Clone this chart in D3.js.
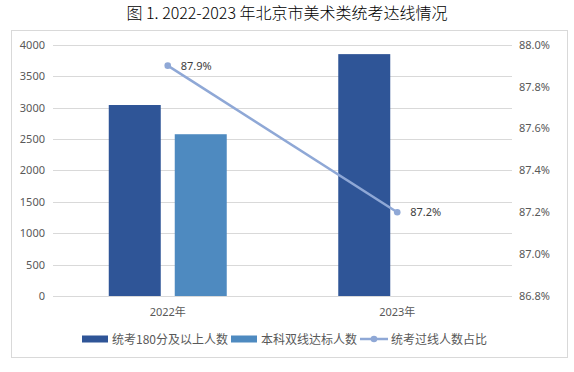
<!DOCTYPE html>
<html>
<head>
<meta charset="utf-8">
<script src="https://cdn.jsdelivr.net/npm/d3@7"></script>
<style>
  body { margin: 0; background: #fff; }
  text { font-family: "Noto Sans", "Noto Sans CJK SC", sans-serif; }
</style>
</head>
<body>
<div id="chart"></div>
<script>
// Data
const years = ["2022年", "2023年"];
const seriesNames = ["统考180分及以上人数", "本科双线达标人数"];
const passCount = [3040, 3850];
const bothLines = [2575, null];
const passRate = [87.9, 87.2];
const lineName = "统考过线人数占比";
const leftTicks = [0, 500, 1000, 1500, 2000, 2500, 3000, 3500, 4000];
const rightTicks = [86.8, 87.0, 87.2, 87.4, 87.6, 87.8, 88.0];

const colors = ["#2F5597", "#4E8AC0"];
const lineColor = "#8FA8D6";
const textColor = "#595959";
const gridColor = "#D9D9D9";

const W = 574, H = 372;
const plot = { left: 53, right: 512, top: 44.7, bottom: 296 };

const svg = d3.select("#chart").append("svg")
  .attr("width", W).attr("height", H);

// Chart border
svg.append("rect")
  .attr("x", 11.5).attr("y", 30.5)
  .attr("width", 556).attr("height", 327)
  .attr("fill", "none").attr("stroke", gridColor);

// Title
svg.append("text")
  .attr("x", 287).attr("y", 19)
  .attr("text-anchor", "middle")
  .style("font-family", "'Noto Sans CJK SC', sans-serif")
  .style("font-size", "16px")
  .style("font-weight", "300")
  .attr("fill", "#000")
  .text("图 1. 2022-2023 年北京市美术类统考达线情况");

// Scales
const x = d3.scaleBand().domain(years).range([plot.left, plot.right]);
const xs = d3.scaleBand().domain(seriesNames).range([0, x.bandwidth()])
  .paddingInner(0.212).paddingOuter(0.845);
const yL = d3.scaleLinear().domain([0, 4000]).range([plot.bottom, plot.top]);
const yR = d3.scaleLinear().domain([86.8, 88.0]).range([plot.bottom, plot.top]);

// Gridlines
svg.append("g").selectAll("line").data(leftTicks).enter().append("line")
  .attr("x1", plot.left).attr("x2", plot.right)
  .attr("y1", (d) => Math.round(yL(d)) + 0.5)
  .attr("y2", (d) => Math.round(yL(d)) + 0.5)
  .attr("stroke", gridColor);

// Left axis labels
svg.append("g").selectAll("text").data(leftTicks).enter().append("text")
  .attr("x", 45).attr("y", (d) => yL(d) + 4)
  .attr("text-anchor", "end")
  .style("font-size", "11px").attr("fill", textColor)
  .text((d) => d);

// Right axis labels
svg.append("g").selectAll("text").data(rightTicks).enter().append("text")
  .attr("x", 519).attr("y", (d) => yR(d) + 4)
  .style("font-size", "11px").attr("fill", textColor)
  .text((d) => d3.format(".1f")(d) + "%");

// Bars
const rows = years.map((yr, i) => ({ year: yr, vals: [passCount[i], bothLines[i]] }));
const groups = svg.append("g").selectAll("g").data(rows).enter().append("g")
  .attr("transform", (d) => "translate(" + x(d.year) + ",0)");

groups.selectAll("rect")
  .data((d) => d.vals.map((v, j) => ({ name: seriesNames[j], v: v, j: j })).filter((e) => e.v != null))
  .enter().append("rect")
  .attr("x", (d) => xs(d.name))
  .attr("y", (d) => yL(d.v))
  .attr("width", xs.bandwidth())
  .attr("height", (d) => plot.bottom - yL(d.v))
  .attr("fill", (d) => colors[d.j]);

// Category labels
svg.append("g").selectAll("text").data(years).enter().append("text")
  .attr("x", (d) => x(d) + x.bandwidth() / 2)
  .attr("y", 316)
  .attr("text-anchor", "middle")
  .style("font-size", "11px").attr("fill", textColor)
  .text((d) => d);

// Line
const pts = years.map((yr, i) => ({ x: x(yr) + x.bandwidth() / 2, y: yR(passRate[i]), v: passRate[i] }));
svg.append("path")
  .datum(pts)
  .attr("d", d3.line().x((d) => d.x).y((d) => d.y))
  .attr("fill", "none")
  .attr("stroke", lineColor)
  .attr("stroke-width", 2.5);

svg.append("g").selectAll("circle").data(pts).enter().append("circle")
  .attr("cx", (d) => d.x).attr("cy", (d) => d.y).attr("r", 3.3)
  .attr("fill", lineColor);

svg.append("g").selectAll("text").data(pts).enter().append("text")
  .attr("x", (d) => d.x + 13).attr("y", (d) => d.y + 4)
  .style("font-size", "11px").attr("fill", "#404040")
  .text((d) => d3.format(".1f")(d.v) + "%");

// Legend
const legY = 339;
const legend = svg.append("g");
const legItems = [
  { name: seriesNames[0], type: "bar", color: colors[0], x: 82 },
  { name: seriesNames[1], type: "bar", color: colors[1], x: 231 },
  { name: lineName, type: "line", color: lineColor, x: 360 }
];
legItems.forEach((it) => {
  if (it.type === "bar") {
    legend.append("rect")
      .attr("x", it.x).attr("y", legY - 3.5)
      .attr("width", 26).attr("height", 7)
      .attr("fill", it.color);
  } else {
    legend.append("line")
      .attr("x1", it.x).attr("x2", it.x + 28)
      .attr("y1", legY).attr("y2", legY)
      .attr("stroke", it.color).attr("stroke-width", 2.5);
    legend.append("circle")
      .attr("cx", it.x + 14).attr("cy", legY).attr("r", 3.3)
      .attr("fill", it.color);
  }
  legend.append("text")
    .attr("x", it.x + (it.type === "bar" ? 30 : 31))
    .attr("y", legY + 4.5)
    .style("font-family", "'Noto Sans CJK SC', sans-serif")
    .style("font-size", "12px").attr("fill", textColor)
    .text(it.name);
});
</script>
</body>
</html>
